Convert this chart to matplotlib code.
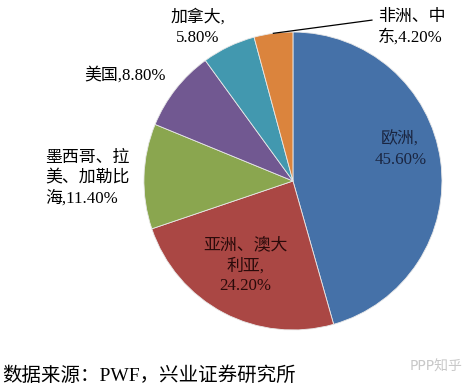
import numpy as np
import matplotlib.pyplot as plt

plt.rcParams['font.family'] = ['Liberation Serif', 'Noto Sans CJK SC', 'DejaVu Sans']

# 数据
regions = ["欧洲", "亚洲、澳大\n利亚", "墨西哥、拉\n美、加勒比\n海", "美国", "加拿大", "非洲、中\n东"]
shares = [45.6, 24.2, 11.4, 8.8, 5.8, 4.2]
colors = ["#4571A8", "#AA4744", "#8AA64F", "#715891", "#4298AF", "#DB843D"]

fig = plt.figure(figsize=(4.74, 3.9), dpi=100)
ax = fig.add_axes([0, 0, 1, 1])

ax.pie(shares, colors=colors, startangle=90, counterclock=False, radius=1,
       wedgeprops=dict(edgecolor="#e8e8e8", linewidth=0.6))
ax.set_xlim(-1.966, 1.215)
ax.set_ylim(-1.403, 1.215)
ax.set_aspect("auto")
ax.axis("off")

labels = [r + "," + ("\n" if i in (0, 1, 4) else "") + "%.2f%%" % v
          for i, (r, v) in enumerate(zip(regions, shares))]

fs = 12.2
ax.text(0.72, 0.21, labels[0], ha="center", va="center", fontsize=fs, color="#1a2540", linespacing=1.35)
ax.text(-0.32, -0.57, labels[1], ha="center", va="center", fontsize=fs, color="#2a0a0a", linespacing=1.35)
ax.text(-1.66, 0.02, labels[2], ha="left", va="center", fontsize=fs, linespacing=1.35)
ax.text(-1.13, 0.71, labels[3], ha="center", va="center", fontsize=fs)
ax.text(-0.64, 1.03, labels[4], ha="center", va="center", fontsize=fs, linespacing=1.35)
ax.text(0.57, 1.03, labels[5], ha="left", va="center", fontsize=fs, linespacing=1.35)

# 非洲、中东 的引线, 从扇区中点出发
mid = np.deg2rad(90 + shares[5] / 100 * 360 / 2)
ax.plot([np.cos(mid), 0.53], [np.sin(mid), 1.08], color="black", lw=0.9)

fig.text(0.004, 1 - 376 / 390, "数据来源：PWF，兴业证券研究所", fontsize=14, va="center", ha="left")
fig.text(0.975, 1 - 367 / 390, "PPP知乎", fontsize=10, color="#c8c8c8", va="center", ha="right",
         family=["DejaVu Sans", "Noto Sans CJK SC"])

fig.savefig("out.png", dpi=100)
